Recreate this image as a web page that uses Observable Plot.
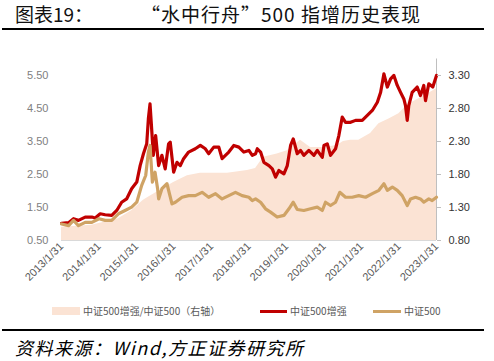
<!DOCTYPE html>
<html><head><meta charset="utf-8">
<script src="https://cdn.jsdelivr.net/npm/d3@7"></script>
<script src="https://cdn.jsdelivr.net/npm/@observablehq/plot@0.6"></script>
<style>
body{margin:0;background:#fff;}
#wrap{position:relative;width:494px;height:361px;overflow:hidden;font-family:"Liberation Sans",Arial,sans-serif;}
.abs{position:absolute;white-space:nowrap;}
.title{font-family:"Noto Sans CJK SC",sans-serif;font-size:19px;color:#111;top:2px;line-height:24px;}
.rule{position:absolute;left:2px;width:482px;height:2px;background:#000;}
.leg{font-family:"Noto Sans CJK SC",sans-serif;font-size:10px;color:#595959;top:303px;line-height:16px;}
.sw{position:absolute;}
.src{font-family:"Noto Sans CJK SC",sans-serif;font-size:18px;font-style:italic;letter-spacing:1.5px;color:#000;top:335px;left:15px;line-height:24px;}
</style></head>
<body><div id="wrap">
<div class="abs title" style="left:15px">图表19：</div>
<div class="abs title" style="left:141px;letter-spacing:1px">“水中行舟”500 指增历史表现</div>
<div class="rule" style="top:28px"></div>
<div id="chart" class="abs" style="left:0;top:0"></div>
<div class="sw" style="left:52px;top:307px;width:28px;height:8px;background:#FBE3D4"></div>
<div class="abs leg" style="left:83px">中证500增强/中证500（右轴）</div>
<div class="sw" style="left:260px;top:310px;width:27px;height:3px;background:#C00000"></div>
<div class="abs leg" style="left:290px">中证500增强</div>
<div class="sw" style="left:373px;top:310px;width:28px;height:3px;background:#CFA365"></div>
<div class="abs leg" style="left:404px">中证500</div>
<div class="rule" style="top:329px"></div>
<div class="abs src">资料来源：Wind,方正证券研究所</div>
</div>
<script>
// 中证500增强 (left axis)
const enhanced = [["2013-01-31",1.02],["2013-04-10",1.04],["2013-05-28",1.16],["2013-07-15",1.11],["2013-09-19",1.21],["2013-11-22",1.21],["2013-12-25",1.18],["2014-02-12",1.31],["2014-04-01",1.28],["2014-06-04",1.26],["2014-07-23",1.41],["2014-09-09",1.66],["2014-10-27",1.76],["2014-12-15",2.07],["2015-02-03",2.27],["2015-03-08",2.77],["2015-04-09",3.13],["2015-05-11",3.43],["2015-05-27",4.19],["2015-06-12",4.64],["2015-06-28",3.88],["2015-07-14",3.08],["2015-08-06",3.68],["2015-09-04",2.77],["2015-10-06",3.08],["2015-11-07",2.67],["2015-12-10",3.43],["2015-12-26",3.48],["2016-01-28",2.57],["2016-03-01",2.87],["2016-04-02",2.77],["2016-05-04",2.98],["2016-06-22",3.18],["2016-08-26",3.28],["2016-10-14",3.38],["2016-12-02",3.28],["2017-01-03",3.13],["2017-02-22",3.33],["2017-04-12",3.33],["2017-05-14",2.98],["2017-07-18",3.18],["2017-09-05",3.38],["2017-10-24",3.33],["2017-12-12",3.18],["2018-01-30",3.23],["2018-03-04",3.08],["2018-04-05",3.13],["2018-04-22",3.28],["2018-05-24",3.18],["2018-06-25",2.87],["2018-08-13",2.77],["2018-09-15",2.67],["2018-10-17",2.42],["2018-11-18",2.62],["2019-01-06",2.52],["2019-02-08",2.77],["2019-03-12",3.38],["2019-04-07",3.58],["2019-05-16",3.13],["2019-06-17",3.23],["2019-07-19",3.08],["2019-09-06",3.23],["2019-10-25",3.08],["2019-11-27",3.23],["2020-01-15",3.02],["2020-01-31",3.38],["2020-03-03",3.43],["2020-04-04",3.08],["2020-05-23",3.28],["2020-06-24",3.68],["2020-07-27",4.24],["2020-08-28",4.08],["2020-10-16",4.08],["2020-12-04",4.14],["2021-02-07",4.14],["2021-03-28",4.29],["2021-05-16",4.44],["2021-07-04",4.69],["2021-08-05",4.99],["2021-09-06",5.55],["2021-10-09",5.15],["2021-11-10",5.40],["2021-12-12",5.50],["2022-01-14",5.20],["2022-02-15",4.99],["2022-03-19",4.79],["2022-04-04",4.59],["2022-04-21",4.14],["2022-05-06",4.59],["2022-06-08",4.99],["2022-07-27",5.15],["2022-08-28",4.89],["2022-09-29",5.20],["2022-10-16",4.74],["2022-11-17",5.25],["2022-12-26",5.15],["2023-01-31",5.50]];
// 中证500 (left axis)
const csi500 = [["2013-01-31",1.00],["2013-04-10",0.95],["2013-05-28",1.11],["2013-07-15",0.95],["2013-09-19",1.05],["2013-11-22",1.05],["2014-01-31",1.16],["2014-04-01",1.11],["2014-06-04",1.11],["2014-08-08",1.31],["2014-10-12",1.41],["2014-12-15",1.51],["2015-02-03",1.66],["2015-03-23",2.17],["2015-05-01",2.47],["2015-05-27",3.18],["2015-06-12",3.38],["2015-07-05",2.27],["2015-07-31",2.57],["2015-08-25",2.07],["2015-09-04",1.76],["2015-10-06",2.07],["2015-11-24",2.22],["2016-01-12",1.61],["2016-02-14",1.66],["2016-04-19",1.81],["2016-06-22",1.86],["2016-08-26",1.86],["2016-10-31",1.96],["2017-01-03",1.81],["2017-03-11",1.92],["2017-05-14",1.76],["2017-07-18",1.86],["2017-09-21",1.96],["2017-11-25",1.86],["2018-01-30",1.81],["2018-03-04",1.71],["2018-04-05",1.76],["2018-05-24",1.66],["2018-07-11",1.46],["2018-08-29",1.36],["2018-11-01",1.21],["2019-01-06",1.26],["2019-02-24",1.46],["2019-04-07",1.66],["2019-05-16",1.44],["2019-07-19",1.41],["2019-09-22",1.46],["2019-11-27",1.51],["2020-01-15",1.41],["2020-02-15",1.66],["2020-04-04",1.56],["2020-05-23",1.66],["2020-07-03",1.96],["2020-08-28",1.81],["2020-11-01",1.81],["2021-01-04",1.86],["2021-03-11",1.81],["2021-05-16",1.92],["2021-07-19",2.02],["2021-09-06",2.22],["2021-10-09",2.02],["2021-11-27",2.12],["2022-01-14",2.02],["2022-03-03",1.86],["2022-04-21",1.56],["2022-05-23",1.76],["2022-07-11",1.81],["2022-08-28",1.76],["2022-09-29",1.66],["2022-11-17",1.76],["2022-12-20",1.71],["2023-01-31",1.81]];
// 中证500增强/中证500 (right axis)
const ratio = [["2013-01-31",1.00],["2013-11-22",1.03],["2014-08-08",1.13],["2014-12-15",1.25],["2015-04-09",1.41],["2015-06-12",1.47],["2015-09-20",1.56],["2016-01-28",1.68],["2016-06-10",1.78],["2016-10-14",1.82],["2017-07-05",1.82],["2018-01-16",1.86],["2018-04-05",1.89],["2018-06-22",2.06],["2018-11-01",2.11],["2019-02-08",2.16],["2019-06-17",2.32],["2019-09-22",2.21],["2020-01-28",2.21],["2020-06-08",2.24],["2020-08-08",2.30],["2020-10-16",2.32],["2021-01-04",2.32],["2021-04-29",2.42],["2021-07-19",2.57],["2021-10-25",2.64],["2022-01-30",2.72],["2022-04-21",2.85],["2022-07-11",2.92],["2022-10-16",3.00],["2023-01-31",3.10]];

const xTickLabels = ["2013-01-31","2014-01-31","2015-01-31","2016-01-31","2017-01-31","2018-01-31","2019-01-31","2020-01-31","2021-01-31","2022-01-31","2023-01-31"];
const leftTicks = [0.5,1.5,2.5,3.5,4.5,5.5];
const rightTicks = [0.8,1.3,1.8,2.3,2.8,3.3];

const parse = d3.utcParse("%Y-%m-%d");
const toObj = a => a.map(([d,v]) => ({date: parse(d), v}));
const enh = toObj(enhanced), csi = toObj(csi500), rat = toObj(ratio);
// map right-axis values onto left-axis scale (0.8↔0.5, 3.3↔5.5)
const toLeft = r => 0.5 + (r - 0.8) * 2;
const fromLeft = l => 0.8 + (l - 0.5) / 2;
const x0 = parse(xTickLabels[0]), x1 = parse(xTickLabels[xTickLabels.length-1]);

const chart = Plot.plot({
  width: 494, height: 300,
  marginLeft: 61, marginRight: 58, marginTop: 58.5, marginBottom: 60,
  style: {fontFamily: "Liberation Sans, Arial, sans-serif", fontSize: "11px", background: "transparent"},
  x: {type: "utc", domain: [x0, x1], label: null},
  y: {domain: [0.5, 6.0], label: null},
  marks: [
    Plot.areaY(rat, {x: "date", y1: 0.5, y2: d => toLeft(d.v), fill: "#FBE3D4", curve: "linear"}),
    Plot.ruleY([0.5], {stroke: "#d9d9d9", strokeWidth: 1}),
    Plot.ruleX([x1], {y1: 0.5, y2: 6.0, stroke: "#bfbfbf", strokeWidth: 1}),
    Plot.lineY(enh, {x: "date", y: "v", stroke: "#C00000", strokeWidth: 3.2, strokeLinejoin: "round"}),
    Plot.lineY(csi, {x: "date", y: "v", stroke: "#CFA365", strokeWidth: 3.2, strokeLinejoin: "round"}),
    Plot.axisY({anchor: "left", label: null, ticks: leftTicks, tickFormat: d => d.toFixed(2), tickSize: 0, tickPadding: 13, fill: "#808080"}),
    Plot.axisY({anchor: "right", label: null, ticks: rightTicks.map(toLeft), tickFormat: d => fromLeft(d).toFixed(2), tickSize: 4, tickPadding: 8, stroke: "#bfbfbf", fill: "#333"}),
    Plot.axisX({label: null, ticks: xTickLabels.map(parse), tickFormat: d3.utcFormat("%Y/%-m/%-d"), tickRotate: -45, tickSize: 0, tickPadding: 4, fill: "#595959"})
  ]
});
document.getElementById("chart").appendChild(chart);
</script>
</body></html>
